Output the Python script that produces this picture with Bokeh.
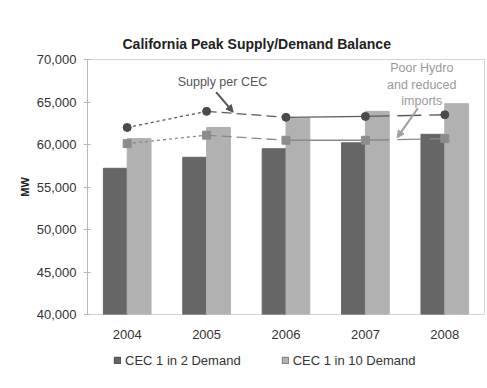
from bokeh.plotting import figure
from bokeh.models import (FactorRange, Range1d, Legend, LegendItem, Label, Arrow,
                          NormalHead, FixedTicker, NumeralTickFormatter, Title)
from bokeh.transform import dodge
from bokeh.layouts import column
from bokeh.embed import file_html
from bokeh.resources import INLINE

# ---- data ----
years = ["2004", "2005", "2006", "2007", "2008"]
demand_1in2 = [57200, 58500, 59500, 60200, 61200]
demand_1in10 = [60700, 62000, 63100, 63900, 64800]
supply_1in2 = [62000, 63900, 63200, 63300, 63500]
supply_1in10 = [60100, 61100, 60500, 60500, 60700]
y_ticks = [40000, 45000, 50000, 55000, 60000, 65000, 70000]
series_names = ["CEC 1 in 2 Demand", "CEC 1 in 10 Demand"]
title_text = "California Peak Supply/Demand Balance"
note_supply = "Supply per CEC"
note_hydro = ["Poor Hydro", "and reduced", "imports"]

FONT = "Liberation Sans"
DARK = "#666666"
LIGHT = "#b1b1b1"

p = figure(x_range=FactorRange(*years), y_range=Range1d(40000, 70000),
           frame_width=397, frame_height=255, output_backend="svg",
           toolbar_location=None, title=None,
           min_border_left=87, min_border_right=3, min_border_top=59,
           min_border_bottom=31, background_fill_color="white",
           border_fill_color="white", outline_line_color="#d4d4d4")
p.grid.visible = False

src = dict(years=years, d2=demand_1in2, d10=demand_1in10)
r1 = p.vbar(x=dodge("years", -0.15, range=p.x_range), top="d2", bottom=40000,
            width=0.3, source=src, fill_color=DARK, line_color=DARK)
r2 = p.vbar(x=dodge("years", 0.15, range=p.x_range), top="d10", bottom=40000,
            width=0.3, source=src, fill_color=LIGHT, line_color=LIGHT)

# supply lines, segment styles
dashes = ["3 3", "10 5", "solid", "24 8"]
for i in range(4):
    p.line(x=years[i:i + 2], y=supply_1in2[i:i + 2], line_color="#5a5a5a",
           line_width=1.3, line_dash=dashes[i])
    p.line(x=years[i:i + 2], y=supply_1in10[i:i + 2], line_color="#8a8a8a",
           line_width=1.3, line_dash=dashes[i])
p.scatter(x=years, y=supply_1in2, marker="circle", size=8,
          fill_color="#4a4a4a", line_color="#4a4a4a")
p.scatter(x=years, y=supply_1in10, marker="square", size=8,
          fill_color="#8c8c8c", line_color="#8c8c8c")

# axes
ya = p.yaxis[0]
ya.ticker = FixedTicker(ticks=y_ticks)
ya.formatter = NumeralTickFormatter(format="0,0")
ya.axis_line_color = "#b8b8b8"
ya.major_tick_line_color = "#b8b8b8"
ya.major_tick_out = 4
ya.major_tick_in = 3
ya.minor_tick_line_color = None
ya.major_label_standoff = 7
ya.major_label_text_font = FONT
ya.major_label_text_font_size = "13px"
ya.major_label_text_color = "#333333"
ya.axis_label = "MW"
ya.axis_label_text_font = FONT
ya.axis_label_text_font_size = "11px"
ya.axis_label_text_font_style = "bold"
ya.axis_label_text_color = "#222222"
ya.axis_label_standoff = 3

xa = p.xaxis[0]
xa.axis_line_color = None
xa.major_tick_line_color = None
xa.minor_tick_line_color = None
xa.major_label_standoff = 9
xa.major_label_text_font = FONT
xa.major_label_text_font_size = "13px"
xa.major_label_text_color = "#333333"

# title
p.add_layout(Title(text=title_text, align="left", offset=35, standoff=16,
                   text_font=FONT, text_font_size="14px", text_font_style="bold",
                   text_color="#222222"), "above")

# annotations
p.add_layout(Label(x=1.70, y=67300, text=note_supply, text_font=FONT,
                   text_font_size="12.5px", text_color="#555555",
                   text_align="center", text_baseline="middle"))
for txt, yv in zip(note_hydro, [68950, 67050, 65100]):
    p.add_layout(Label(x=4.21, y=yv, text=txt, text_font=FONT,
                       text_font_size="12.5px", text_color="#9a9a9a",
                       text_align="center", text_baseline="middle"))
p.add_layout(Arrow(x_start=1.62, y_start=66150, x_end=1.835, y_end=63800,
                   line_color="#555555", line_width=2,
                   end=NormalHead(size=7, fill_color="#555555", line_color="#555555")))
p.add_layout(Arrow(x_start=4.16, y_start=64250, x_end=3.90, y_end=60800,
                   line_color="#a0a0a0", line_width=2,
                   end=NormalHead(size=7, fill_color="#a0a0a0", line_color="#a0a0a0")))

# legend strip (separate small figure so the legend is not clipped)
lf = figure(width=487, height=43, x_range=Range1d(0, 487), y_range=Range1d(0, 43),
            output_backend="svg", toolbar_location=None, min_border=0,
            outline_line_color=None, background_fill_color="white",
            border_fill_color="white")
lf.axis.visible = False
lf.grid.visible = False
k1 = lf.vbar(x=[-100], top=[-100], bottom=[-110], width=1,
             fill_color=DARK, line_color="#444444")
k2 = lf.vbar(x=[-100], top=[-100], bottom=[-110], width=1,
             fill_color=LIGHT, line_color="#777777")
legend = Legend(items=[LegendItem(label=series_names[0], renderers=[k1]),
                       LegendItem(label=series_names[1], renderers=[k2])],
                orientation="horizontal", location=(26, 20),
                glyph_width=8, glyph_height=8, label_standoff=4, spacing=40,
                padding=5, margin=0, border_line_color=None,
                background_fill_alpha=0, label_text_font=FONT,
                label_text_font_size="13px", label_text_color="#333333",
                label_height=16)
lf.add_layout(legend, "center")

layout = column(p, lf, spacing=0)
open("out.html", "w").write(file_html(layout, INLINE))
